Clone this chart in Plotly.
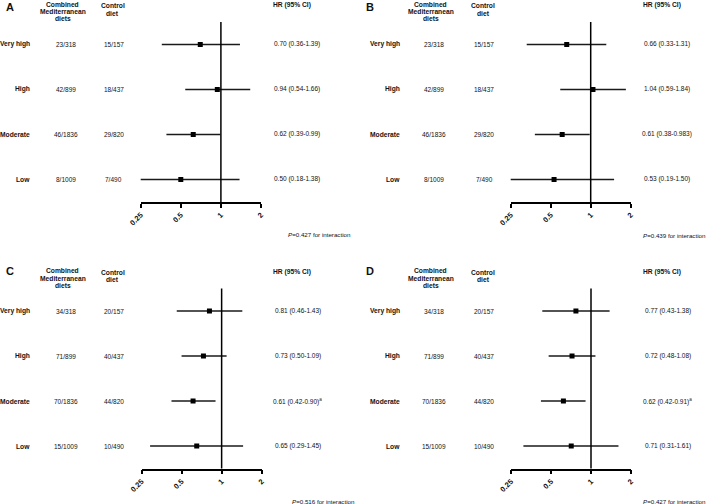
import math
import plotly.graph_objects as go

# ---------------- data ----------------
categories = ["Very high", "High", "Moderate", "Low"]

med_AB = ["23/318", "42/899", "46/1836", "8/1009"]
ctrl_AB = ["15/157", "18/437", "29/820", "7/490"]
med_CD = ["34/318", "71/899", "70/1836", "15/1009"]
ctrl_CD = ["20/157", "40/437", "44/820", "10/490"]

hr_A = [0.70, 0.94, 0.62, 0.50]
lo_A = [0.36, 0.54, 0.39, 0.18]
hi_A = [1.39, 1.66, 0.99, 1.38]
txt_A = ["0.70 (0.36-1.39)", "0.94 (0.54-1.66)", "0.62 (0.39-0.99)", "0.50 (0.18-1.38)"]

hr_B = [0.66, 1.04, 0.61, 0.53]
lo_B = [0.33, 0.59, 0.38, 0.19]
hi_B = [1.31, 1.84, 0.983, 1.50]
txt_B = ["0.66 (0.33-1.31)", "1.04 (0.59-1.84)", "0.61 (0.38-0.983)", "0.53 (0.19-1.50)"]

hr_C = [0.81, 0.73, 0.61, 0.65]
lo_C = [0.46, 0.50, 0.42, 0.29]
hi_C = [1.43, 1.09, 0.90, 1.45]
txt_C = ["0.81 (0.46-1.43)", "0.73 (0.50-1.09)", "0.61 (0.42-0.90)<sup>a</sup>", "0.65 (0.29-1.45)"]

hr_D = [0.77, 0.72, 0.62, 0.71]
lo_D = [0.43, 0.48, 0.42, 0.31]
hi_D = [1.38, 1.08, 0.91, 1.61]
txt_D = ["0.77 (0.43-1.38)", "0.72 (0.48-1.08)", "0.62 (0.42-0.91)<sup>a</sup>", "0.71 (0.31-1.61)"]

p_texts = ["<i>P</i>=0.427 for interaction", "<i>P</i>=0.439 for interaction",
           "<i>P</i>=0.516 for interaction", "<i>P</i>=0.427 for interaction"]
panel_letters = ["A", "B", "C", "D"]
header_med = ["Combined", "Mediterranean", "diets"]
header_ctrl = ["Control", "diet"]
header_hr = "HR (95% CI)"
tick_vals = [0.25, 0.5, 1, 2]
tick_text = ["0.25", "0.5", "1", "2"]

# ---------------- layout helpers ----------------
W, H = 709, 504
FONT = "Liberation Sans, Arial, sans-serif"
INK = "#111111"


def px(x):
    return x / W


def py(y):
    return 1 - y / H


# per-panel pixel anchors (layout only)
panels = [
    dict(hr=hr_A, lo=lo_A, hi=hi_A, txt=txt_A, med=med_AB, ctrl=ctrl_AB,
         letter_x=4, dy=0, ax_x=(140.7, 261.0), lab_r=32, med_c=65.5, ctrl_c=113.5,
         hmed=62.7, hctrl=112.7, hhr=291.7, hrt=296.5, p_r=353, p_y=234),
    dict(hr=hr_B, lo=lo_B, hi=hi_B, txt=txt_B, med=med_AB, ctrl=ctrl_AB,
         letter_x=364, dy=0, ax_x=(510.7, 630.7), lab_r=401.7, med_c=434, ctrl_c=484,
         hmed=430.7, hctrl=483, hhr=661.7, hrt=666.5, p_r=708.3, p_y=235),
    dict(hr=hr_C, lo=lo_C, hi=hi_C, txt=txt_C, med=med_CD, ctrl=ctrl_CD,
         letter_x=4, dy=266.5, ax_x=(141.5, 261.7), lab_r=32, med_c=65.5, ctrl_c=113.5,
         hmed=62.7, hctrl=112.7, hhr=291.7, hrt=297.5, p_r=357, p_y=501),
    dict(hr=hr_D, lo=lo_D, hi=hi_D, txt=txt_D, med=med_CD, ctrl=ctrl_CD,
         letter_x=364, dy=266.5, ax_x=(511.0, 631.0), lab_r=401.7, med_c=434, ctrl_c=484,
         hmed=430.7, hctrl=483, hhr=661.7, hrt=667.5, p_r=708.3, p_y=501),
]

fig = go.Figure()
annotations = []
shapes = []
layout_axes = {}
n = len(categories)
idx = list(range(n))


def ann(text, x, y, size=6.8, bold=False, xanchor="center", yref="paper"):
    annotations.append(dict(
        text=text, x=x, y=y, xref="paper", yref=yref, showarrow=False,
        xanchor=xanchor, yanchor="middle",
        font=dict(family=FONT, size=size, color=INK, weight="bold" if bold else "normal"),
    ))


for k, p in enumerate(panels):
    sfx = "" if k == 0 else str(k + 1)
    xa, ya = "x" + sfx, "y" + sfx
    dy = p["dy"]
    x0, x1 = p["ax_x"]
    y_top, y_bot = 22 + dy, 202 + dy

    layout_axes["xaxis" + sfx] = dict(
        type="log", range=[math.log10(0.25), math.log10(2)],
        domain=[px(x0), px(x1)], anchor=ya, automargin=False,
        showline=True, linecolor="#000", linewidth=1.5,
        ticks="outside", ticklen=4, tickwidth=1.5, tickcolor="#000",
        tickvals=tick_vals, ticktext=tick_text, tickangle=-45,
        tickfont=dict(family=FONT, size=7.5, color=INK, weight="bold"),
        showgrid=False, zeroline=False, fixedrange=True,
    )
    layout_axes["yaxis" + sfx] = dict(
        range=[n - 0.5, -0.5], domain=[py(y_bot), py(y_top)], anchor=xa,
        automargin=False, visible=False, showgrid=False, zeroline=False, fixedrange=True,
    )

    xs, ys = [], []
    for i, (l, h) in enumerate(zip(p["lo"], p["hi"])):
        xs += [l, h, None]
        ys += [i, i, None]
    fig.add_trace(go.Scatter(x=xs, y=ys, mode="lines", xaxis=xa, yaxis=ya,
                             line=dict(color="#1a1a1a", width=1.3), hoverinfo="skip",
                             showlegend=False))
    fig.add_trace(go.Scatter(x=p["hr"], y=idx, mode="markers", xaxis=xa, yaxis=ya,
                             marker=dict(symbol="square", size=5, color="#000"),
                             showlegend=False))
    shapes.append(dict(type="line", xref=xa, yref=ya + " domain", x0=1, x1=1, y0=0, y1=1,
                       line=dict(color="#000", width=1.5)))

    ann(panel_letters[k], px(p["letter_x"]), py(7.5 + dy - (3 if dy else 0)),
        size=11, bold=True, xanchor="left")
    for line, yy in zip(header_med, [4.3, 11.7, 18.7]):
        ann(line, px(p["hmed"]), py(yy + dy), size=6.7, bold=True)
    for line, yy in zip(header_ctrl, [5.7, 13.3]):
        ann(line, px(p["hctrl"]), py(yy + dy), size=6.7, bold=True)
    ann(header_hr, px(p["hhr"]), py(5 + dy), size=6.7, bold=True)

    for i in idx:
        ann(categories[i], px(p["lab_r"]), i, size=6.7, bold=True, xanchor="right", yref=ya)
        ann(p["med"][i], px(p["med_c"]), i, size=6.5, yref=ya)
        ann(p["ctrl"][i], px(p["ctrl_c"]), i, size=6.5, yref=ya)
        ann(p["txt"][i], px(p["hrt"]), i, size=6.5, yref=ya)

    ann(p_texts[k], px(p["p_r"]), py(p["p_y"]), size=6.2, xanchor="right")

fig.update_layout(
    width=W, height=H, margin=dict(l=0, r=0, t=0, b=0, pad=0, autoexpand=False),
    paper_bgcolor="white", plot_bgcolor="white",
    annotations=annotations, shapes=shapes, showlegend=False,
    **layout_axes,
)

fig.write_html("out.html", config={"displayModeBar": False},
               post_script="document.body.style.margin='0px';document.body.style.overflow='hidden';")
